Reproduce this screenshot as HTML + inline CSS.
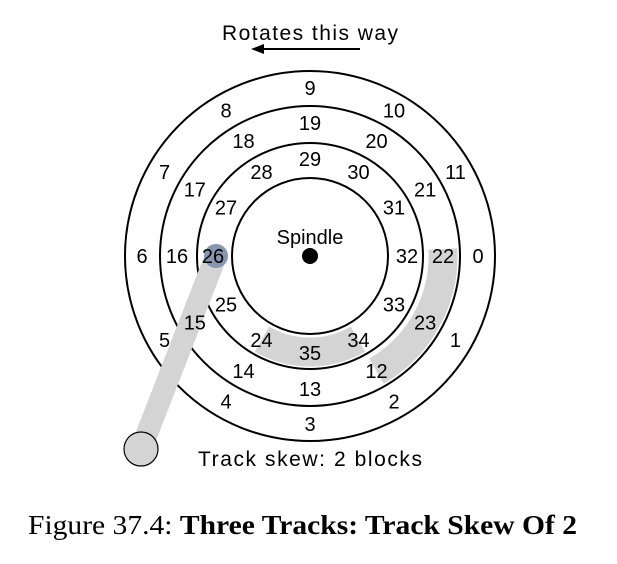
<!DOCTYPE html>
<html><head><meta charset="utf-8"><style>
html,body{margin:0;padding:0;background:#fff;}
svg{display:block;}
text{font-family:"Liberation Sans",sans-serif;font-size:20px;fill:#000;}
</style></head><body>
<svg id="chart" width="617" height="564" viewBox="0 0 617 564">
<text x="310" y="40" text-anchor="middle" style="font-size:21px" textLength="176">Rotates this way</text>
<line x1="262" y1="49" x2="360" y2="49" stroke="#000" stroke-width="2"/>
<polygon points="251,49 264,44 264,54" fill="#000"/>
<g id="disk"></g>
<text x="310" y="466" text-anchor="middle" style="font-size:21px" textLength="224">Track skew: 2 blocks</text>
<text x="28" y="534" style="font-family:'Liberation Serif',serif;font-size:27px" textLength="549" lengthAdjust="spacingAndGlyphs">Figure 37.4: <tspan font-weight="bold">Three Tracks: Track Skew Of 2</tspan></text>
</svg>
<script>
const tracks = [0, 1, 2];
const trackFirstBlock = [0, 12, 24];
const trackStartAngle = [0, 60, 120];
const blocksPerTrack = 12;
const highlightArcs = [[1, -3, 60], [2, 60, 120]];
const headBlock = 26;

const cx = 310, cy = 256;
const circleR = [185, 150, 113, 78];
const labelR = [168, 133, 97];
const bandR = [133, 96];
const NS = "http://www.w3.org/2000/svg";
const g = document.getElementById("disk");
function mk(tag, attrs){const e=document.createElementNS(NS,tag);for(const k in attrs)e.setAttribute(k,attrs[k]);g.appendChild(e);return e;}
function pt(r,a){const t=a*Math.PI/180;return [cx+r*Math.cos(t), cy+r*Math.sin(t)];}

circleR.forEach((r,i)=>{
  const c=mk("circle",{cx:cx,cy:cy,r:r,fill:"none",stroke:"#000","stroke-width":2});
  
  
});
highlightArcs.forEach((h,i)=>{
  const r = h[0]===1?bandR[0]:bandR[1];
  const p1=pt(r,h[1]), p2=pt(r,h[2]);
  const a=mk("path",{d:`M${p1[0]},${p1[1]} A${r},${r} 0 0 1 ${p2[0]},${p2[1]}`,fill:"none",stroke:"#d4d4d4","stroke-width":29});
  
  
});
const headAngle = trackStartAngle[2] + (headBlock - trackFirstBlock[2]) * 30;
const hp = pt(labelR[2], headAngle);
const arm=mk("line",{x1:141,y1:449,x2:hp[0]+3,y2:hp[1],stroke:"#d4d4d4","stroke-width":22});


const piv=mk("circle",{cx:141,cy:449,r:17,fill:"#d4d4d4",stroke:"#000","stroke-width":1.2});


const hd=mk("circle",{cx:hp[0]+3,cy:hp[1],r:12,fill:"#8696ae"});


const dot=mk("circle",{cx:cx,cy:cy,r:8,fill:"#000"});


const sp=mk("text",{x:cx,y:cy-12,"text-anchor":"middle"});
sp.textContent="Spindle";



tracks.forEach(t=>{
  for(let j=0;j<blocksPerTrack;j++){
    const p=pt(labelR[t], trackStartAngle[t]+30*j);
    const tx=mk("text",{x:p[0],y:p[1]+7,"text-anchor":"middle"});
    tx.textContent=String(trackFirstBlock[t]+j);
    
    
  }
});
</script>
</body></html>
